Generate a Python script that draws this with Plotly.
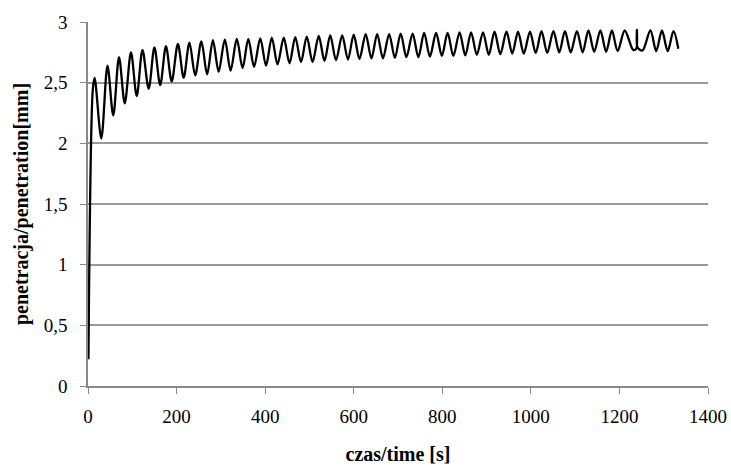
import plotly.graph_objects as go

# start of the curve (time [s], penetration [mm])
start_t = [1, 11]
start_v = [0.22, 2.45]

# peaks
peak_t = [15, 44, 70, 97, 123, 150, 176, 203, 229, 256, 282, 309, 336, 362, 389, 415,
          442, 468, 494, 521, 547, 574, 600, 627, 653, 680, 706, 733, 759, 786, 812,
          839, 865, 892, 918, 945, 971, 998, 1024, 1051, 1077, 1104, 1130, 1157, 1183, 1212]
peak_v = [2.54, 2.64, 2.71, 2.75, 2.77, 2.79, 2.80, 2.82, 2.83, 2.84, 2.85, 2.855, 2.86,
          2.86, 2.865, 2.87, 2.87, 2.875, 2.88, 2.885, 2.89, 2.89, 2.895, 2.90, 2.90, 2.90,
          2.905, 2.905, 2.91, 2.91, 2.91, 2.915, 2.915, 2.915, 2.92, 2.92, 2.92, 2.92, 2.925,
          2.925, 2.925, 2.925, 2.93, 2.93, 2.93, 2.93]

# troughs
trough_t = [30, 57, 83, 110, 137, 163, 189, 216, 242, 269, 295, 322, 349, 375, 402, 428,
            455, 481, 507, 534, 560, 587, 613, 640, 666, 693, 719, 746, 772, 799, 825,
            852, 878, 905, 931, 958, 984, 1011, 1037, 1064, 1090, 1117, 1143, 1170, 1196]
trough_v = [2.04, 2.23, 2.33, 2.39, 2.45, 2.48, 2.51, 2.54, 2.56, 2.57, 2.59, 2.60, 2.62,
            2.63, 2.64, 2.65, 2.66, 2.67, 2.67, 2.68, 2.685, 2.69, 2.695, 2.70, 2.70, 2.705,
            2.71, 2.71, 2.715, 2.72, 2.72, 2.725, 2.73, 2.73, 2.735, 2.74, 2.74, 2.745,
            2.745, 2.75, 2.75, 2.75, 2.755, 2.755, 2.76]

# irregular segment near the end and final cycles
tail_t = [1231, 1238, 1239.5, 1241, 1252, 1270, 1283, 1296, 1309, 1322, 1333]
tail_v = [2.77, 2.78, 2.935, 2.79, 2.765, 2.93, 2.76, 2.93, 2.76, 2.925, 2.78]

x_ticks = [0, 200, 400, 600, 800, 1000, 1200, 1400]
y_ticks = [0, 0.5, 1, 1.5, 2, 2.5, 3]
y_tick_text = ["0", "0,5", "1", "1,5", "2", "2,5", "3"]

# assemble the series in time order
xs = list(start_t)
ys = list(start_v)
for i in range(len(peak_t)):
    xs.append(peak_t[i]); ys.append(peak_v[i])
    if i < len(trough_t):
        xs.append(trough_t[i]); ys.append(trough_v[i])
xs += tail_t
ys += tail_v

fig = go.Figure()
fig.add_trace(go.Scatter(x=xs, y=ys, mode="lines",
                         line=dict(color="black", width=2.3, shape="spline", smoothing=0.9),
                         showlegend=False, hoverinfo="skip"))

font_family = '"Liberation Serif", "Times New Roman", serif'
fig.update_layout(
    width=731, height=465,
    margin=dict(l=88, r=23, t=22, b=79),
    paper_bgcolor="white", plot_bgcolor="white",
    font=dict(family=font_family, size=19, color="black"),
    xaxis=dict(range=[0, 1400], tickvals=x_ticks, ticks="outside", ticklen=6,
               tickcolor="#888888", showline=True, linecolor="#888888", linewidth=1.5,
               showgrid=False, zeroline=False, ticklabelstandoff=6, automargin=False,
               title=dict(text="<b>czas/time [s]</b>", font=dict(size=20), standoff=22),
               tickfont=dict(size=19)),
    yaxis=dict(range=[0, 3], tickvals=y_ticks, ticktext=y_tick_text, ticks="outside",
               ticklen=6, tickcolor="#888888", showline=True, linecolor="#888888",
               linewidth=1.5, showgrid=True, gridcolor="#999999", gridwidth=1.5,
               zeroline=False, ticklabelstandoff=9, automargin=False,
               title=dict(text="<b>penetracja/penetration[mm]</b>", font=dict(size=20), standoff=10),
               tickfont=dict(size=19)),
)

fig.write_html("out.html")
